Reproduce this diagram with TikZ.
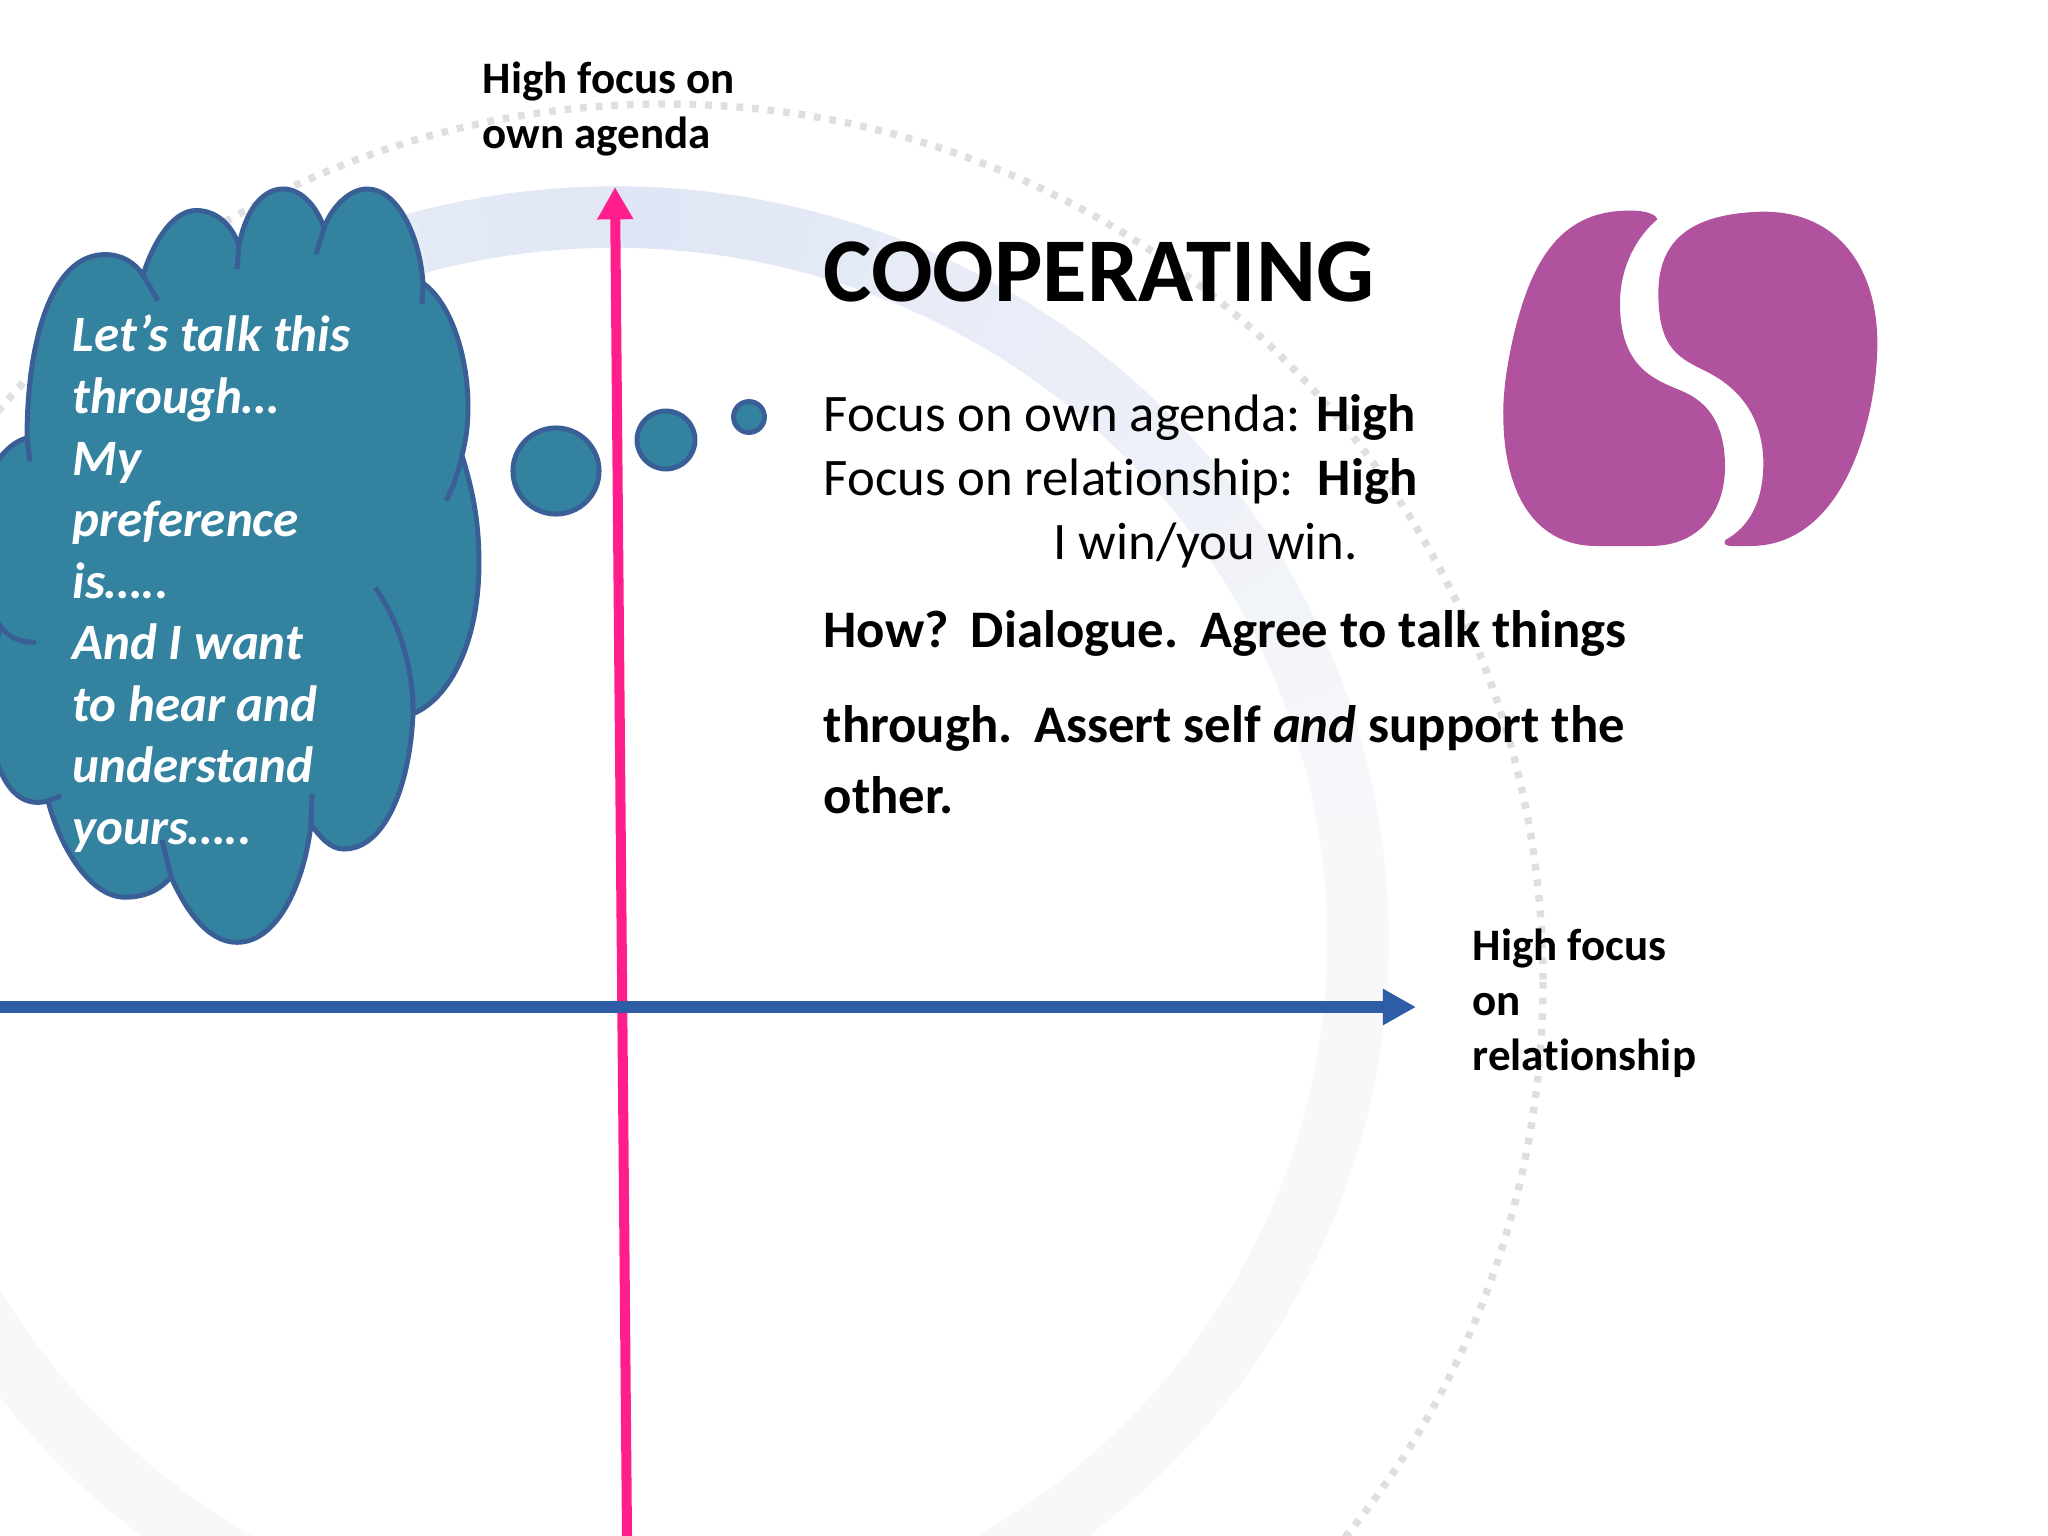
\documentclass[tikz,border=0pt]{standalone}
\usepackage{fontspec}
\setmainfont[Ligatures=NoCommon]{Carlito}
\usepackage{xcolor}
\usetikzlibrary{arrows.meta,positioning,calc}

\definecolor{ringtop}{HTML}{E0E6F5}
\definecolor{ringlow}{HTML}{F7F8FA}
\definecolor{dotgray}{HTML}{DDDFE3}
\definecolor{cloudfill}{HTML}{33829F}
\definecolor{cloudline}{HTML}{3A5F96}
\definecolor{axisblue}{HTML}{2F5DA5}
\definecolor{axispink}{HTML}{FF1E8C}
\definecolor{logopurple}{HTML}{B0529E}

\begin{document}
\begin{tikzpicture}[x=0.01cm, y=-0.01cm,
    axislabel/.style={anchor=north west, inner sep=0pt, align=left, font=\fontsize{12.8}{15.65}\selectfont\bfseries},
    bodytext/.style={anchor=north west, inner sep=0pt, align=left, font=\fontsize{15}{18.2}\selectfont},
    howtext/.style={anchor=north west, inner sep=0pt, align=left, font=\fontsize{15}{20.2}\selectfont\bfseries},
    cloudtext/.style={anchor=north west, inner sep=0pt, align=left, text=white, font=\fontsize{14.5}{17.5}\selectfont\bfseries\itshape},
    thought/.style={circle, draw=cloudline, fill=cloudfill, line width=1.4pt, inner sep=0pt}]
    \useasboundingbox (0,0) rectangle (2048,1536);

    % Rings
    \coordinate (ringC) at (615,940);
    \coordinate (dotC) at (665,982);
    \draw[dotgray, line width=2.1pt, dash pattern=on 1.9pt off 2.55pt] (dotC) circle[radius=878];
    \foreach \a in {-240,-235,...,60}{
        \pgfmathsetmacro{\mixval}{max(0,100-abs(\a+90)*1.25)}
        \draw[ringtop!\mixval!ringlow, line width=17.5pt]
            ([shift={(\a:743 and 723)}]ringC) arc[start angle=\a, delta angle=5.4, x radius=743, y radius=723];
    }

    % Axes
    \coordinate (axisW) at (0,1007);
    \coordinate (axisE) at (1416,1007);
    \coordinate (axisS) at (627,1536);
    \coordinate (axisN) at (615,187);
    \draw[axispink, line width=2.85pt, -{Triangle[length=9.2pt,width=9.7pt]}] (axisS) -- (axisN);
    \draw[axisblue, line width=3.4pt, -{Triangle[length=9.4pt,width=9.7pt]}] (axisW) -- (axisE);

    % Cloud
    \begin{scope}[shift={(0,-3.75)}, yscale=1.025]
    \filldraw[draw=cloudline, fill=cloudfill, line width=1.4pt]
        (27,431) .. controls (27,340) and (50,252) .. (105,252)
        .. controls (122,252) and (135,260) .. (143,272)
        .. controls (155,235) and (175,209) .. (196,209)
        .. controls (218,209) and (233,225) .. (239,244)
        .. controls (245,210) and (262,188) .. (283,188)
        .. controls (303,188) and (318,208) .. (324,226)
        .. controls (332,205) and (350,188) .. (367,188)
        .. controls (398,188) and (420,235) .. (423,280)
        .. controls (450,298) and (468,350) .. (468,400)
        .. controls (468,420) and (466,432) .. (462,448)
        .. controls (472,480) and (479,510) .. (479,553)
        .. controls (479,630) and (450,685) .. (413,700)
        .. controls (410,770) and (385,832) .. (344,832)
        .. controls (330,832) and (320,820) .. (311,808)
        .. controls (305,860) and (280,923) .. (237,923)
        .. controls (207,923) and (185,890) .. (171,859)
        .. controls (160,872) and (145,879) .. (125,879)
        .. controls (90,879) and (60,830) .. (48,785)
        .. controls (30,790) and (5,785) .. (-8,730)
        .. controls (-15,690) and (-5,640) .. (0,614)
        .. controls (-15,600) and (-15,470) .. (0,450)
        .. controls (8,440) and (18,433) .. (27,431) -- cycle;
    \draw[cloudline, line width=1.4pt]
        (143,272) -- (158,297)
        (239,244) -- (237,266)
        (324,226) -- (316,252)
        (423,280) -- (422,300)
        (27,431) -- (30,454)
        (462,448) .. controls (458,465) and (453,480) .. (446,492)
        (375,577) .. controls (400,610) and (414,660) .. (413,700)
        (312,778) -- (311,808)
        (162,823) -- (171,859)
        (61,780) -- (48,785)
        (0,614) .. controls (8,625) and (20,631) .. (36,630);
    \end{scope}

    \node[thought, minimum size=24.5pt] (thoughtA) at (556,471) {};
    \node[thought, minimum size=16.5pt] (thoughtB) at (666,440) {};
    \node[thought, minimum size=8.8pt] (thoughtC) at (749,417) {};

    \node[cloudtext] (cloudsay) at (72,314.5) {Let’s talk this\\through…\\My\\preference\\is…..\\And I want\\to hear and\\understand\\yours…..};

    % Logo
    \begin{scope}[shift={(1450,180)}, x=0.01cm/3, y=-0.01cm/3]
        \fill[logopurple] (622,118) .. controls (615,95) and (560,90) .. (530,92)
            .. controls (320,95) and (240,260) .. (190,470)
            .. controls (165,580) and (158,660) .. (160,720)
            .. controls (165,950) and (260,1098) .. (440,1098)
            -- (600,1098)
            .. controls (760,1098) and (825,980) .. (825,860)
            .. controls (825,740) and (780,670) .. (700,635)
            .. controls (620,600) and (510,570) .. (510,370)
            .. controls (510,260) and (560,170) .. (622,118) -- cycle;
        \fill[logopurple] (826,1080) .. controls (900,1040) and (942,960) .. (940,840)
            .. controls (935,700) and (860,620) .. (770,575)
            .. controls (690,535) and (625,510) .. (625,340)
            .. controls (625,190) and (710,100) .. (940,95)
            .. controls (1170,95) and (1282,270) .. (1282,490)
            .. controls (1282,700) and (1190,1098) .. (900,1098)
            -- (845,1098) .. controls (825,1098) and (820,1090) .. (826,1080) -- cycle;
    \end{scope}

    % Text
    \node[axislabel] (agendalabel) at (482,61) {High focus on\\own agenda};
    \node[axislabel] (relationlabel) at (1472,928) {High focus\\on\\relationship};
    \node[anchor=north west, inner sep=0pt, font=\fontsize{25.9}{31}\selectfont\bfseries] (title) at (823,241.5) {COOPERATING};
    \node[bodytext] (focus) at (823,394) {Focus on own agenda: \textbf{High}\\Focus on relationship:\hspace{2.4pt} \textbf{High}\\\hspace{65.3pt}I win/you win.};
    \node[howtext, below=11.7pt of focus.south west, anchor=north west] (how) {How?\hspace{1.7pt} Dialogue.\hspace{1.7pt} Agree to talk things\\[6.8pt]through.\hspace{1.7pt} Assert self \textit{and} support the\\other.};

\end{tikzpicture}
\end{document}
